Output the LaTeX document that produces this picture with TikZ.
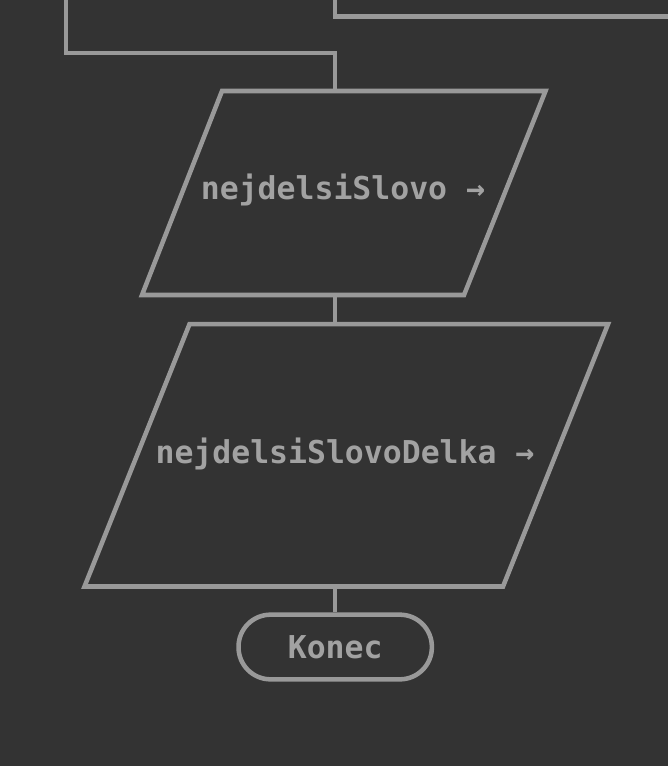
\documentclass[tikz,border=0pt]{standalone}
\usepackage{fontspec}
\setmonofont{DejaVu Sans Mono}
\usepackage{tikz}

\definecolor{bg}{HTML}{333333}
\definecolor{edge}{HTML}{999999}
\definecolor{ink}{HTML}{A2A2A2}

\begin{document}
\begin{tikzpicture}[x=0.75pt, y=-0.75pt,
  flow/.style={draw=edge, line width=3.4pt},
  label/.style={text=ink, inner sep=0pt,
    font=\fontsize{23.6}{28}\selectfont\ttfamily\bfseries},
  term/.style={flow, label, rounded corners=24pt,
    minimum width=145pt, minimum height=48.5pt}]
  \useasboundingbox (0,0) rectangle (668,766);
  \fill[bg] (0,0) rectangle (668,766);

  % labels
  \node[label] (outWord) at (343,190) {nejdelsiSlovo →};
  \node[label] (outLen) at (345,454) {nejdelsiSlovoDelka →};
  \node[term] (konec) at (335.2,647) {Konec};

  % ports on the flow axis
  \coordinate (loopTop) at (65.8,0);
  \coordinate (branchTop) at (335.2,0);
  \coordinate (branchEnd) at (668,16.5);
  \coordinate (outWordIn) at (335.2,91);
  \coordinate (outWordOut) at (335.2,295);
  \coordinate (outLenIn) at (335.2,324.2);
  \coordinate (outLenOut) at (335.2,586.5);

  % output boxes
  \draw[flow] (222,91) -- (545.5,91) -- (464,295) -- (142,295) -- cycle;
  \draw[flow] (189.5,324.2) -- (608,324.2) -- (503,586.5) -- (84.5,586.5) -- cycle;

  % incoming lines
  \draw[flow] (loopTop) |- (335.2,53.2) -- (outWordIn);
  \draw[flow] (branchTop) |- (branchEnd);

  % connectors
  \draw[flow] (outWordOut) -- (outLenIn);
  \draw[flow] (outLenOut) -- (konec.north);
\end{tikzpicture}
\end{document}
